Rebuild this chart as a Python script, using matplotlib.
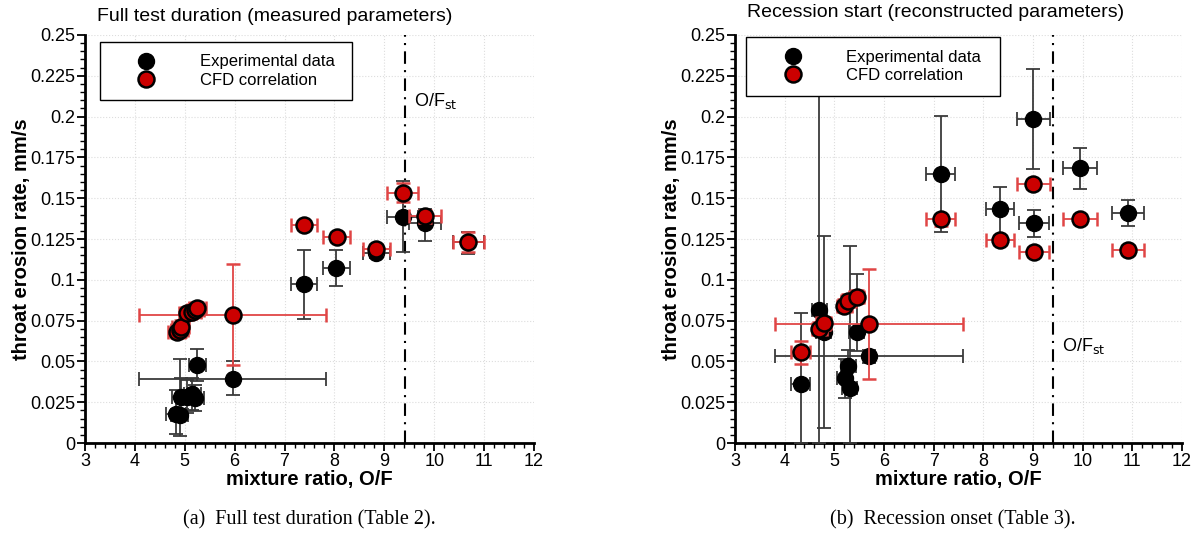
import numpy as np
import matplotlib
matplotlib.use("Agg")
import matplotlib.pyplot as plt
from matplotlib.lines import Line2D
from matplotlib.ticker import MultipleLocator, FormatStrFormatter

plt.rcParams['font.family'] = ['Liberation Sans', 'DejaVu Sans']

# stoichiometric mixture ratio
of_st = 9.41

# (a) full test duration - experimental data
a_exp_of = [4.83, 4.90, 4.92, 5.05, 5.15, 5.21, 5.25, 5.96, 7.39, 8.04, 8.84, 9.37, 9.82, 10.68]
a_exp_rate = [0.0175, 0.0170, 0.0280, 0.0285, 0.0300, 0.0275, 0.0478, 0.0395, 0.0975, 0.1070, 0.1165, 0.1387, 0.1347, 0.1230]
a_exp_lo = [0.012, 0.013, 0.010, 0.010, 0.010, 0.008, 0.010, 0.010, 0.0215, 0.011, 0.003, 0.0217, 0.0107, 0.007]
a_exp_hi = [0.015, 0.0345, 0.012, 0.010, 0.010, 0.008, 0.010, 0.0105, 0.0205, 0.011, 0.003, 0.022, 0.0087, 0.006]
a_exp_xerr = [0.2, 0.17, 0.17, 0.17, 0.17, 0.17, 0.17, 1.87, 0.27, 0.27, 0.27, 0.31, 0.32, 0.31]

# (a) full test duration - CFD correlation
a_cfd_of = [4.84, 4.90, 4.92, 5.05, 5.15, 5.21, 5.25, 5.96, 7.39, 8.05, 8.84, 9.37, 9.82, 10.68]
a_cfd_rate = [0.0683, 0.0690, 0.0713, 0.0795, 0.0805, 0.0815, 0.0826, 0.0786, 0.1333, 0.1260, 0.1187, 0.1534, 0.1390, 0.1230]
a_cfd_lo = [0.004, 0.004, 0.004, 0.004, 0.004, 0.004, 0.004, 0.0308, 0.003, 0.003, 0.003, 0.006, 0.004, 0.006]
a_cfd_hi = [0.004, 0.004, 0.004, 0.004, 0.004, 0.004, 0.004, 0.0311, 0.003, 0.003, 0.003, 0.006, 0.004, 0.006]
a_cfd_xerr = [0.17, 0.17, 0.17, 0.17, 0.17, 0.17, 0.17, 1.87, 0.27, 0.27, 0.27, 0.31, 0.32, 0.31]

# (b) recession onset - experimental data
b_exp_of = [4.32, 4.70, 4.79, 5.21, 5.28, 5.31, 5.45, 5.70, 7.14, 8.34, 9.01, 9.02, 9.95, 10.92]
b_exp_rate = [0.0362, 0.0812, 0.0680, 0.0397, 0.0472, 0.0335, 0.0683, 0.0533, 0.1647, 0.1432, 0.1986, 0.1350, 0.1684, 0.1412]
b_exp_lo = [0.0362, 0.0812, 0.0586, 0.012, 0.010, 0.0335, 0.012, 0.004, 0.0357, 0.0182, 0.0308, 0.0085, 0.0129, 0.008]
b_exp_hi = [0.0433, 0.16, 0.059, 0.012, 0.010, 0.0873, 0.035, 0.004, 0.0359, 0.0138, 0.0304, 0.0078, 0.0122, 0.0078]
b_exp_xerr = [0.19, 0.15, 0.15, 0.15, 0.15, 0.15, 0.15, 1.9, 0.30, 0.28, 0.34, 0.30, 0.34, 0.32]

# (b) recession onset - CFD correlation
b_cfd_of = [4.32, 4.70, 4.79, 5.20, 5.28, 5.45, 5.70, 7.14, 8.34, 9.01, 9.02, 9.95, 10.92]
b_cfd_rate = [0.0556, 0.0700, 0.0734, 0.0840, 0.0873, 0.0897, 0.0728, 0.1370, 0.1244, 0.1588, 0.1169, 0.1373, 0.1183]
b_cfd_lo = [0.0074, 0.004, 0.004, 0.004, 0.004, 0.004, 0.0338, 0.004, 0.003, 0.003, 0.003, 0.003, 0.003]
b_cfd_hi = [0.0071, 0.004, 0.004, 0.004, 0.004, 0.004, 0.0339, 0.003, 0.003, 0.003, 0.003, 0.003, 0.003]
b_cfd_xerr = [0.19, 0.15, 0.15, 0.15, 0.15, 0.15, 1.9, 0.30, 0.28, 0.34, 0.30, 0.34, 0.32]

titles = ['Full test duration (measured parameters)', 'Recession start (reconstructed parameters)']
captions = ['(a)  Full test duration (Table 2).', '(b)  Recession onset (Table 3).']

fig = plt.figure(figsize=(11.97, 5.46), dpi=100)
ax_a = fig.add_axes([0.0710, 0.1886, 0.3751, 0.7473])
ax_b = fig.add_axes([0.6140, 0.1886, 0.3734, 0.7473])

ms = 11.5
series = [
    (ax_a, a_exp_of, a_exp_rate, a_exp_lo, a_exp_hi, a_exp_xerr,
     a_cfd_of, a_cfd_rate, a_cfd_lo, a_cfd_hi, a_cfd_xerr),
    (ax_b, b_exp_of, b_exp_rate, b_exp_lo, b_exp_hi, b_exp_xerr,
     b_cfd_of, b_cfd_rate, b_cfd_lo, b_cfd_hi, b_cfd_xerr),
]

for i, (ax, ex, ey, elo, ehi, exe, cx, cy, clo, chi, cxe) in enumerate(series):
    # experimental data
    ax.errorbar(ex, ey, yerr=[elo, ehi], xerr=exe, fmt='o', ms=ms,
                mfc='black', mec='black', ecolor='#3a3a3a', elinewidth=1.3,
                capsize=5, capthick=1.3, zorder=3)
    # CFD correlation
    ax.errorbar(cx, cy, yerr=[clo, chi], xerr=cxe, fmt='o', ms=ms,
                mfc='#cc0000', mec='black', mew=1.8, ecolor='#e04545',
                elinewidth=1.3, capsize=5, capthick=1.3, zorder=4)

    ax.axvline(of_st, color='black', lw=1.5, ls=(0, (6, 3, 1, 3)), zorder=2)

    ax.set_xlim(3, 12)
    ax.set_ylim(0, 0.25)
    ax.xaxis.set_major_locator(MultipleLocator(1))
    ax.xaxis.set_minor_locator(MultipleLocator(0.2))
    ax.yaxis.set_major_locator(MultipleLocator(0.025))
    ax.yaxis.set_minor_locator(MultipleLocator(0.005))
    ax.yaxis.set_major_formatter(FormatStrFormatter('%g'))
    ax.tick_params(which='major', length=6, width=1.3, labelsize=13, direction='out', pad=1)
    ax.tick_params(which='minor', length=3.5, width=1.0, direction='out')

    for s in ['top', 'right']:
        ax.spines[s].set_visible(False)
    for s in ['left', 'bottom']:
        ax.spines[s].set_linewidth(2)

    ax.grid(True, which='major', color='#dddddd', ls=':', lw=0.8)
    ax.set_axisbelow(True)

    ax.set_xlabel('mixture ratio, O/F', fontsize=14.5, fontweight='bold')
    ax.set_ylabel('throat erosion rate, mm/s', fontsize=14.5, fontweight='bold')
    ax.xaxis.set_label_coords(0.5, -0.065)
    ax.yaxis.set_label_coords(-0.121, 0.5)

    handles = [
        Line2D([], [], marker='o', ls='none', ms=ms, mfc='black', mec='black'),
        Line2D([], [], marker='o', ls='none', ms=ms, mfc='#cc0000', mec='black', mew=1.8),
    ]
    if i == 0:
        bbox = (0.033, 0.831, 0.562, 0.152)
    else:
        bbox = (0.025, 0.848, 0.568, 0.146)
    leg = ax.legend(handles, ['Experimental data', 'CFD correlation'],
                    loc='upper left', bbox_to_anchor=bbox, mode='expand',
                    borderaxespad=0, borderpad=0.75, handlelength=4.1,
                    handletextpad=1.15, labelspacing=0.2, fontsize=12,
                    fancybox=False, framealpha=1, edgecolor='black')
    leg.get_frame().set_linewidth(1.0)
    leg.set_zorder(10)

    ax.text(0.027, 1.045 if i == 0 else 1.056, titles[i], transform=ax.transAxes,
            ha='left', va='center', fontsize=14)

ax_a.text(9.6, 0.2096, r'O/F$_{\mathrm{st}}$', fontsize=13, va='center')
ax_b.text(9.58, 0.0595, r'O/F$_{\mathrm{st}}$', fontsize=13, va='center')

fig.text(309 / 1197, 0.0476, captions[0], ha='center', va='center',
         fontsize=14.5, family='Liberation Serif')
fig.text(953 / 1197, 0.0476, captions[1], ha='center', va='center',
         fontsize=14.5, family='Liberation Serif')

fig.savefig('out.png', dpi=100)
